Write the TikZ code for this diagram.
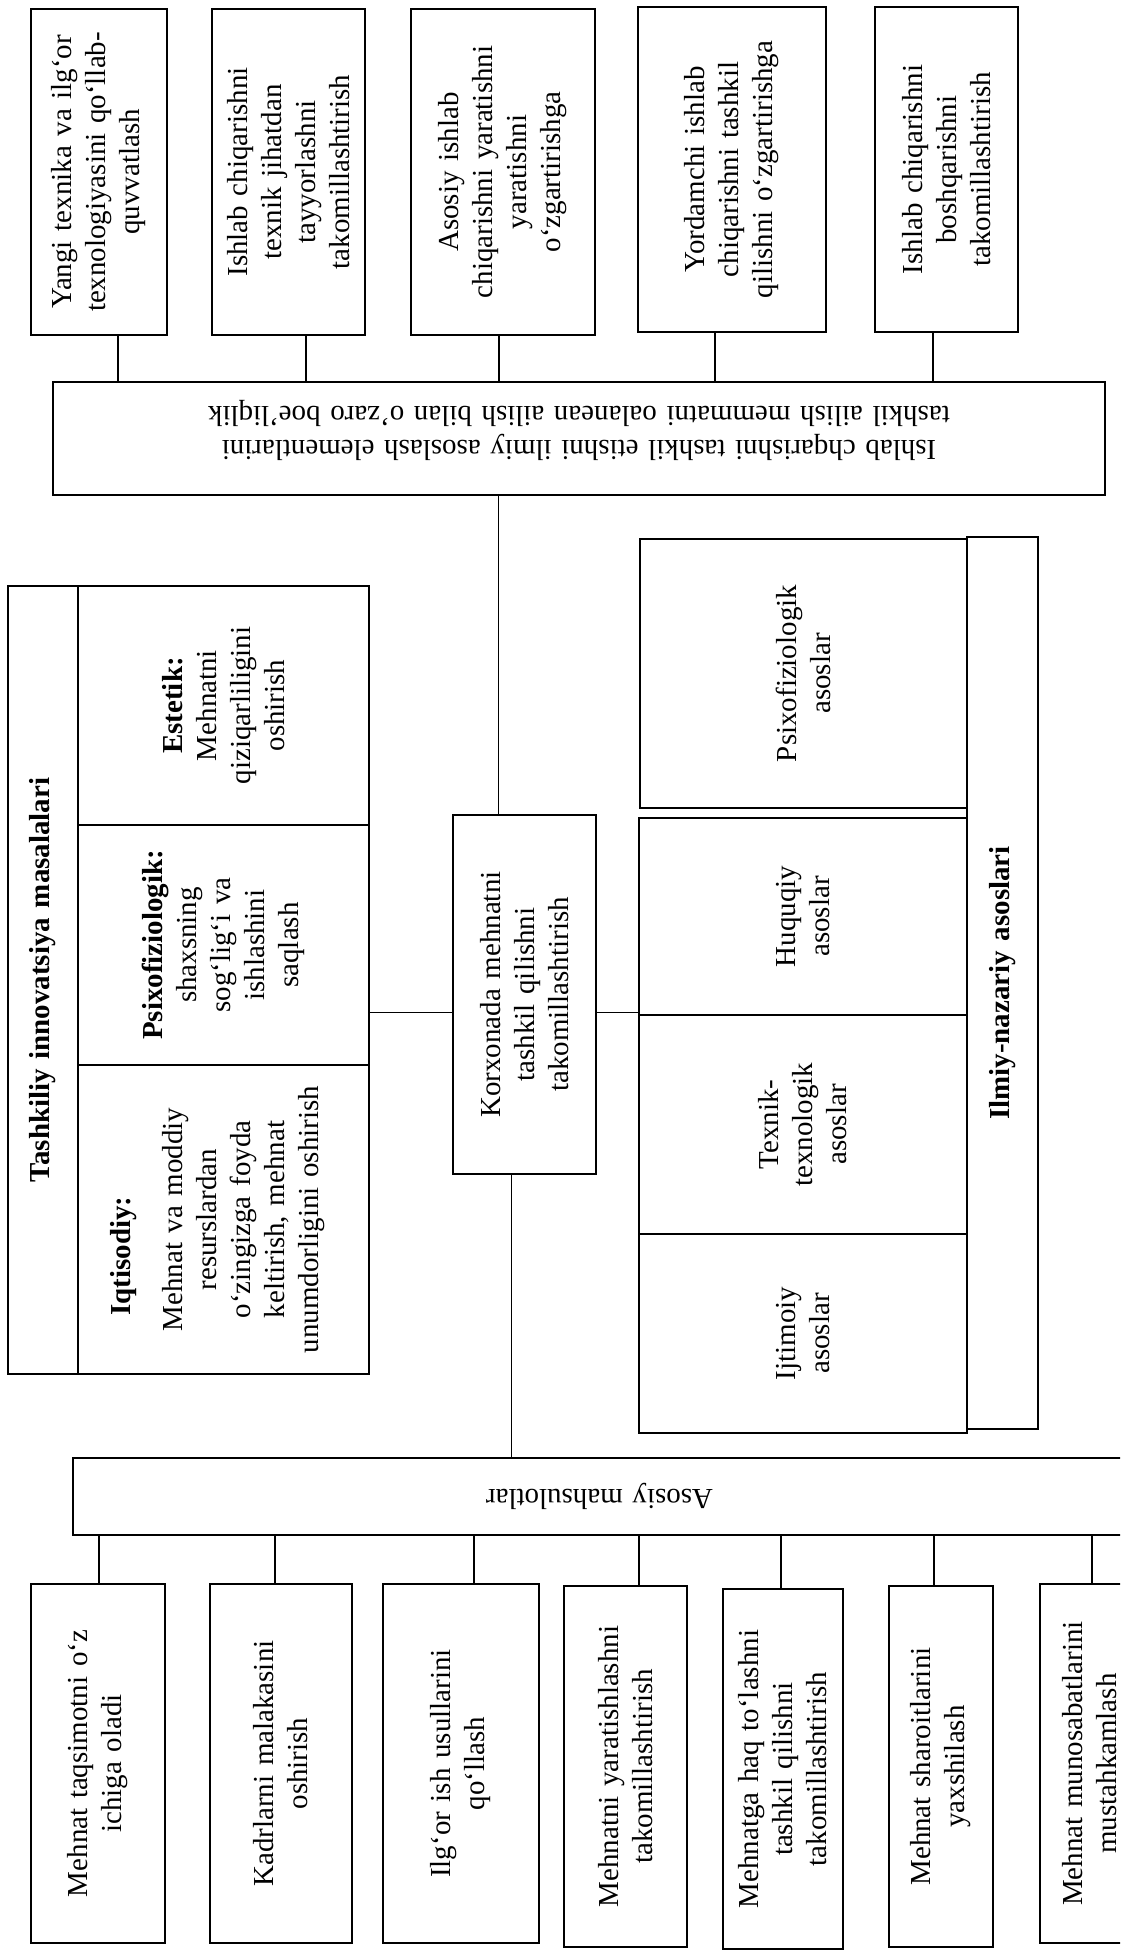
\documentclass[tikz,border=0pt]{standalone}
\usepackage{fontspec}
\setmainfont{Liberation Serif}
\usetikzlibrary{calc,fit}

\begin{document}
\begin{tikzpicture}[x=0.025cm, y=-0.025cm,
		cell/.style={draw, line width=1.6pt, inner sep=0pt},
		vlab/.style={rotate=90, align=center, inner sep=0pt, font=\fontsize{20.6}{24.2}\selectfont},
		ulab/.style={rotate=180, align=center, inner sep=0pt, font=\fontsize{20.6}{24.2}\selectfont},
		link/.style={line width=1.4pt},
		thinlink/.style={line width=1pt}]
			%%%%% START %%%%%
			\useasboundingbox (0,0) rectangle (1120,1955);
			\clip (0,0) rectangle (1120,1955);
			
			\node[cell, fit={(31,9) (167,335)}] (yangi) {};
			\node[cell, fit={(212,9) (365,335)}] (tayyor) {};
			\node[cell, fit={(411,9) (595,335)}] (ozgar) {};
			\node[cell, fit={(638,7) (826,332)}] (yordam) {};
			\node[cell, fit={(875,7) (1018,332)}] (boshqar) {};
			\node[vlab, text width=7.6cm] (yangit) at (yangi) {Yangi texnika va ilg‘or\\ texnologiyasini qo‘llab-\\ quvvatlash};
			\node[vlab, text width=7.6cm] (tayyort) at (tayyor) {Ishlab chiqarishni\\ texnik jihatdan\\ tayyorlashni\\ takomillashtirish};
			\node[vlab, text width=7.6cm] (ozgart) at (ozgar) {Asosiy ishlab\\ chiqarishni yaratishni\\ yaratishni\\ o‘zgartirishga};
			\node[vlab, text width=7.6cm] (yordamt) at (yordam) {Yordamchi ishlab\\ chiqarishni tashkil\\ qilishni o‘zgartirishga};
			\node[vlab, text width=7.6cm] (boshqart) at (boshqar) {Ishlab chiqarishni\\ boshqarishni\\ takomillashtirish};
			
			\node[cell, fit={(53,382) (1105,495)}] (elem) {};
			\node[ulab, text width=25cm] (elemt) at ($(elem)+(0,-8)$) {Ishlab chqarishni tashkil etishni ilmiy asoslash elementlarini\\ tashkil ailish memmatni oalanean ailish bilan o'zaro boe'liqlik};
			
			\draw[link] ($(yangi.south west)!.64!(yangi.south east)$) coordinate (c1) -- (c1 |- elem.north);
			\draw[link] ($(tayyor.south west)!.61!(tayyor.south east)$) coordinate (c2) -- (c2 |- elem.north);
			\draw[link] ($(ozgar.south west)!.48!(ozgar.south east)$) coordinate (c3) -- (c3 |- elem.north);
			\draw[link] ($(yordam.south west)!.41!(yordam.south east)$) coordinate (c4) -- (c4 |- elem.north);
			\draw[link] ($(boshqar.south west)!.41!(boshqar.south east)$) coordinate (c5) -- (c5 |- elem.north);
			
			% chap blok
			\node[cell, fit={(8,586) (78,1374)}] (tashkiliy) {};
			\node[cell, fit={(78,586) (369,825)}] (estetik) {};
			\node[cell, fit={(78,825) (369,1065)}] (psixo) {};
			\node[cell, fit={(78,1065) (369,1374)}] (iqtisod) {};
			\node[vlab, text width=19cm] (tashkiliyt) at (tashkiliy) {\textbf{Tashkiliy innovatsiya masalalari}};
			\node[vlab, text width=5.6cm] (estetikt) at (estetik) {\textbf{Estetik:}\\ Mehnatni\\ qiziqarliligini\\ oshirish};
			\node[vlab, text width=5.6cm] (psixot) at (psixo) {\textbf{Psixofiziologik:}\\ shaxsning\\ sog‘lig‘i va\\ ishlashini\\ saqlash};
			\node[vlab, text width=7cm] (iqtisodt) at ($(iqtisod)+(-6,0)$) {\makebox[\linewidth][l]{\hspace{1.1cm}\textbf{Iqtisodiy:}}\\[0.45cm] Mehnat va moddiy\\ resurslardan\\ o‘zingizga foyda\\ keltirish, mehnat\\ unumdorligini oshirish};
			
			% markaz
			\node[cell, fit={(453,815) (596,1174)}] (korxona) {};
			\node[vlab, text width=8.4cm] (korxonat) at (korxona) {Korxonada mehnatni\\ tashkil qilishni\\ takomillashtirish};
			
			% o'ng blok
			\node[cell, fit={(640,539) (967,808)}] (psixas) {};
			\node[cell, fit={(639,818) (967,1015)}] (huquq) {};
			\node[cell, fit={(639,1015) (967,1234)}] (texnas) {};
			\node[cell, fit={(639,1234) (967,1433)}] (ijtimoiy) {};
			\node[cell, fit={(967,537) (1038,1429)}] (ilmiy) {};
			\node[vlab, text width=6.4cm] (psixast) at (psixas) {Psixofiziologik\\ asoslar};
			\node[vlab, text width=4.6cm] (huquqt) at (huquq) {Huquqiy\\ asoslar};
			\node[vlab, text width=5.2cm] (texnast) at (texnas) {Texnik-\\ texnologik\\ asoslar};
			\node[vlab, text width=4.6cm] (ijtimoiyt) at (ijtimoiy) {Ijtimoiy\\ asoslar};
			\node[vlab, text width=21cm] (ilmiyt) at (ilmiy) {\textbf{Ilmiy-nazariy asoslari}};
			
			\draw[thinlink] ($(korxona.north west)!.32!(korxona.north east)$) coordinate (k1) -- (k1 |- elem.south);
			\draw[thinlink] ($(korxona.north west)!.55!(korxona.south west)$) coordinate (k2) -- (k2 -| psixo.east);
			\draw[thinlink] ($(korxona.north east)!.55!(korxona.south east)$) coordinate (k3) -- (k3 -| huquq.west);
			
			% pastki qator
			\node[cell, fit={(73,1458) (1126,1535)}] (mahsulot) {};
			\node[ulab, text width=25cm] (mahsulott) at (mahsulot) {Asosiy mahsulotlar};
			\draw[thinlink] ($(korxona.south west)!.41!(korxona.south east)$) coordinate (k4) -- (k4 |- mahsulot.north);
			
			\node[cell, fit={(31,1584) (165,1943)}] (taqsim) {};
			\node[cell, fit={(210,1584) (352,1943)}] (kadr) {};
			\node[cell, fit={(383,1584) (539,1943)}] (ilgor) {};
			\node[cell, fit={(564,1586) (687,1947)}] (yaratish) {};
			\node[cell, fit={(723,1589) (843,1949)}] (haq) {};
			\node[cell, fit={(889,1586) (993,1947)}] (sharoit) {};
			\node[cell, fit={(1040,1584) (1140,1943)}] (munosabat) {};
			\node[vlab, text width=8.4cm] (taqsimt) at (taqsim) {Mehnat taqsimotni o‘z\\ ichiga oladi};
			\node[vlab, text width=8.4cm] (kadrt) at (kadr) {Kadrlarni malakasini\\ oshirish};
			\node[vlab, text width=8.4cm] (ilgort) at (ilgor) {Ilg‘or ish usullarini\\ qo‘llash};
			\node[vlab, text width=8.4cm] (yaratisht) at (yaratish) {Mehnatni yaratishlashni\\ takomillashtirish};
			\node[vlab, text width=8.4cm] (haqt) at (haq) {Mehnatga haq to‘lashni\\ tashkil qilishni\\ takomillashtirish};
			\node[vlab, text width=8.4cm] (sharoitt) at (sharoit) {Mehnat sharoitlarini\\ yaxshilash};
			\node[vlab, text width=8.4cm] (munosabatt) at (munosabat) {Mehnat munosabatlarini\\ mustahkamlash};
			
			\draw[link] ($(taqsim.north west)!.51!(taqsim.north east)$) coordinate (m1) -- (m1 |- mahsulot.south);
			\draw[link] ($(kadr.north west)!.46!(kadr.north east)$) coordinate (m2) -- (m2 |- mahsulot.south);
			\draw[link] ($(ilgor.north west)!.58!(ilgor.north east)$) coordinate (m3) -- (m3 |- mahsulot.south);
			\draw[link] ($(yaratish.north west)!.61!(yaratish.north east)$) coordinate (m4) -- (m4 |- mahsulot.south);
			\draw[link] ($(haq.north west)!.48!(haq.north east)$) coordinate (m5) -- (m5 |- mahsulot.south);
			\draw[link] ($(sharoit.north west)!.43!(sharoit.north east)$) coordinate (m6) -- (m6 |- mahsulot.south);
			\draw[link] ($(munosabat.north west)!.52!(munosabat.north east)$) coordinate (m7) -- (m7 |- mahsulot.south);
			
			%%%%% END %%%%%
\end{tikzpicture}
\end{document}
